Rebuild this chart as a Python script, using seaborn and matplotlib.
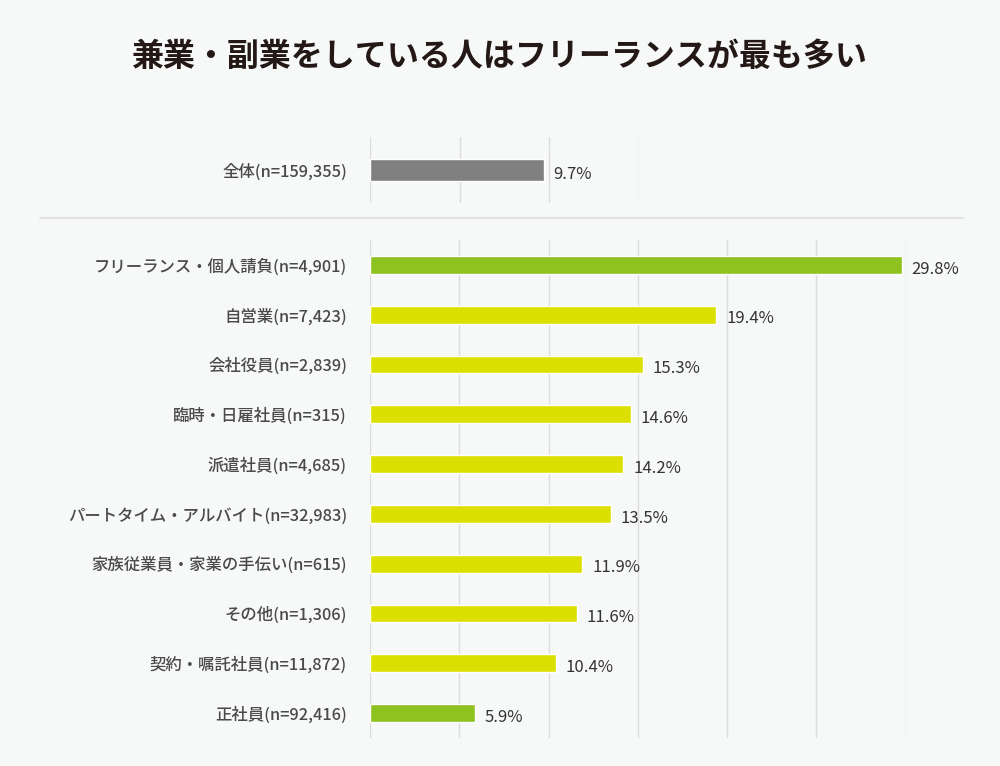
import matplotlib
matplotlib.use("Agg")
import matplotlib.pyplot as plt
import seaborn as sns
import pandas as pd

sns.set_style("white")
plt.rcParams['font.family'] = ['Noto Sans CJK JP', 'DejaVu Sans']

title = "兼業・副業をしている人はフリーランスが最も多い"

total_label = ["全体(n=159,355)"]
total_value = [9.7]

categories = [
    "フリーランス・個人請負(n=4,901)",
    "自営業(n=7,423)",
    "会社役員(n=2,839)",
    "臨時・日雇社員(n=315)",
    "派遣社員(n=4,685)",
    "パートタイム・アルバイト(n=32,983)",
    "家族従業員・家業の手伝い(n=615)",
    "その他(n=1,306)",
    "契約・嘱託社員(n=11,872)",
    "正社員(n=92,416)",
]
values = [29.8, 19.4, 15.3, 14.6, 14.2, 13.5, 11.9, 11.6, 10.4, 5.9]
groups = ["hl", "n", "n", "n", "n", "n", "n", "n", "n", "hl"]

BG = "#f7f8f8"
GRAY = "#808080"
GREEN = "#8dc21f"
YELLOW = "#dbe000"
GRID = "#dcdcdc"
TXT = "#4a4a4a"

W, H = 1000, 766
fig = plt.figure(figsize=(W / 100, H / 100), dpi=100, facecolor=BG)

def ax_rect(x0, y0, x1, y1):
    return [x0 / W, 1 - y1 / H, (x1 - x0) / W, (y1 - y0) / H]

fig.text(500 / W, 1 - 57 / H, title, ha="center", va="center",
         fontsize=23, fontweight="bold", color="#231815")

LBL_SIZE = 11.8
VAL_SIZE = 12

# Top panel
ax1 = fig.add_axes(ax_rect(370, 137, 638.5, 203))
ax1.set_facecolor(BG)
df1 = pd.DataFrame({"label": total_label, "value": total_value})
sns.barplot(data=df1, x="value", y="label", color=GRAY, width=0.333,
            ax=ax1, saturation=1, zorder=3)
ax1.set_xlim(0, 15)
ax1.set_ylim(0.5, -0.5)
ax1.set_xticks([0, 5, 10, 15])
ax1.grid(axis="x", color=GRID, linewidth=1, zorder=0)
ax1.set_axisbelow(True)
for s in ax1.spines.values():
    s.set_visible(False)
ax1.tick_params(axis="x", length=0, labelbottom=False)
ax1.tick_params(axis="y", length=0, pad=16.5, labelsize=LBL_SIZE, labelcolor=TXT)
ax1.set_xlabel("")
ax1.set_ylabel("")
for lab in ax1.get_yticklabels():
    lab.set_fontweight("medium")
for i, v in enumerate(total_value):
    ax1.annotate(f"{v}%", (v, i), xytext=(7, -3), textcoords="offset points",
                 ha="left", va="center", fontsize=VAL_SIZE, color="#333333")

# separator
fig.add_artist(plt.Line2D([40 / W, 963 / W], [1 - 218 / H, 1 - 218 / H],
                          color="#dddddd", linewidth=1.2))

# Bottom panel
ax2 = fig.add_axes(ax_rect(370, 240, 905.5, 738))
ax2.set_facecolor(BG)
df2 = pd.DataFrame({"label": categories, "value": values, "group": groups})
sns.barplot(data=df2, x="value", y="label", hue="group",
            palette={"hl": GREEN, "n": YELLOW}, width=0.36, legend=False,
            ax=ax2, saturation=1, dodge=False, zorder=3)
ax2.set_xlim(0, 30)
ax2.set_ylim(9.5, -0.5)
ax2.set_xticks(range(0, 31, 5))
ax2.grid(axis="x", color=GRID, linewidth=1, zorder=0)
ax2.set_axisbelow(True)
for s in ax2.spines.values():
    s.set_visible(False)
ax2.tick_params(axis="x", length=0, labelbottom=False)
ax2.tick_params(axis="y", length=0, pad=16.5, labelsize=LBL_SIZE, labelcolor=TXT)
ax2.set_xlabel("")
ax2.set_ylabel("")
for lab in ax2.get_yticklabels():
    lab.set_fontweight("medium")
for i, v in enumerate(values):
    ax2.annotate(f"{v}%", (v, i), xytext=(7, -3), textcoords="offset points",
                 ha="left", va="center", fontsize=VAL_SIZE, color="#333333")

fig.savefig("out.png", dpi=100, facecolor=BG)
